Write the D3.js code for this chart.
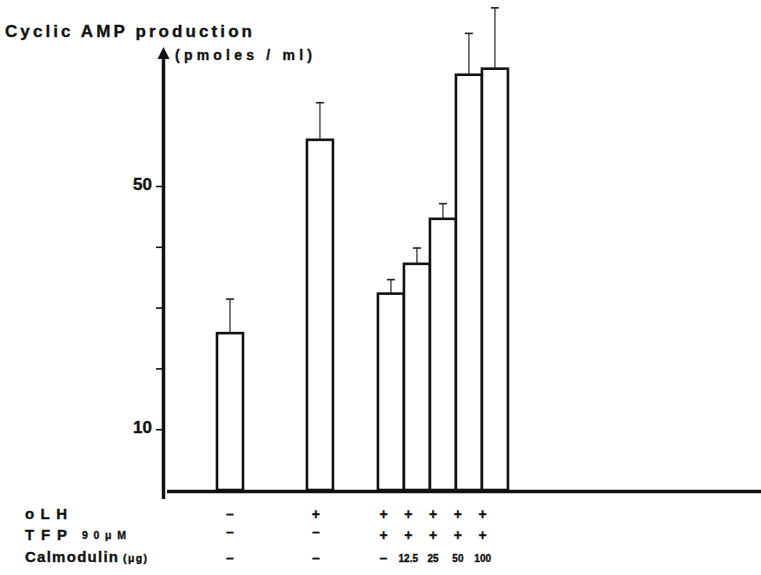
<html>
<head>
    <title>Cyclic AMP production</title>
    <script src="https://d3js.org/d3.v7.min.js"></script>
    <style>
        body { margin: 0; background: #fff; }
        text { font-family: "Liberation Sans", Arial, sans-serif; font-weight: bold; fill: #111; stroke: #111; stroke-width: 0.35px; }
    </style>
</head>
<body>
    <svg id="chart" width="761" height="575"></svg>

    <script>
        // values
        const conditions = ["control", "oLH", "oLH+TFP", "oLH+TFP+CaM12.5", "oLH+TFP+CaM25", "oLH+TFP+CaM50", "oLH+TFP+CaM100"];
        const groupOf = [0, 1, 2, 2, 2, 2, 2];
        const campValues = [25.8, 57.6, 32.3, 37.2, 44.6, 68.3, 69.3];
        const campErrors = [5.6, 6.1, 2.3, 2.6, 2.5, 6.8, 10.0];
        const oLHRow = ["\u2013", "+", "+", "+", "+", "+", "+"];
        const tfpRow = ["\u2013", "\u2013", "+", "+", "+", "+", "+"];
        const calmodulinRow = ["\u2013", "\u2013", "\u2013", "12.5", "25", "50", "100"];
        const yTicks = [10, 20, 30, 40, 50];
        const yTickLabels = {10: "10", 50: "50"};

        const svg = d3.select("#chart");

        // gap (in bar widths) added before each group
        const groupOffset = [0, 2.46, 4.19];
        const lane = conditions.map((c, i) => i + groupOffset[groupOf[i]]);

        const y = d3.scaleLinear().domain([0, 50]).range([490, 186]);
        const xBar = d3.scaleLinear().domain([0, 1]).range([217, 243]);
        const xLabel = d3.scaleLinear().domain([0, 1]).range([217.6, 242.4]);

        // y axis ticks
        const yAxis = d3.axisLeft(y)
            .tickValues(yTicks)
            .tickSize(7)
            .tickPadding(4)
            .tickFormat(d => yTickLabels[d] || "");
        const axisG = svg.append("g")
            .attr("transform", "translate(163,0)")
            .call(yAxis);
        axisG.select(".domain").remove();
        axisG.selectAll(".tick line").attr("stroke", "#111").attr("stroke-width", 1.6);
        axisG.selectAll(".tick text")
            .style("font-family", "'Liberation Sans', Arial, sans-serif")
            .style("font-weight", "bold")
            .style("font-size", "17px")
            .attr("fill", "#111")
            .attr("dy", "0.2em");

        // thick vertical axis with arrow
        svg.append("line")
            .attr("x1", 163.5).attr("x2", 163.5)
            .attr("y1", y(-1.5)).attr("y2", 56)
            .attr("stroke", "#111").attr("stroke-width", 3.5);
        svg.append("path")
            .attr("d", "M163.5,47 L169.5,59 L157.5,59 Z")
            .attr("fill", "#111");

        // baseline
        svg.append("line")
            .attr("x1", 167).attr("x2", 761)
            .attr("y1", y(0) + 1.5).attr("y2", y(0) + 1.5)
            .attr("stroke", "#111").attr("stroke-width", 3.5);

        // bars
        const bars = svg.append("g");
        bars.selectAll("rect")
            .data(campValues)
            .join("rect")
            .attr("x", (d, i) => xBar(lane[i]))
            .attr("width", xBar(1) - xBar(0))
            .attr("y", d => y(d))
            .attr("height", d => y(0) - y(d))
            .attr("fill", "white")
            .attr("stroke", "#111")
            .attr("stroke-width", 2.6);

        // error bars
        const err = svg.append("g").attr("stroke", "#222");
        err.selectAll("line.stem")
            .data(campValues)
            .join("line")
            .attr("class", "stem")
            .attr("x1", (d, i) => xBar(lane[i] + 0.5))
            .attr("x2", (d, i) => xBar(lane[i] + 0.5))
            .attr("y1", d => y(d))
            .attr("y2", (d, i) => y(d + campErrors[i]))
            .attr("stroke-width", 1.2);
        err.selectAll("line.cap")
            .data(campValues)
            .join("line")
            .attr("class", "cap")
            .attr("x1", (d, i) => xBar(lane[i] + 0.5) - 4)
            .attr("x2", (d, i) => xBar(lane[i] + 0.5) + 4)
            .attr("y1", (d, i) => y(d + campErrors[i]))
            .attr("y2", (d, i) => y(d + campErrors[i]))
            .attr("stroke-width", 1.6);

        // titles
        svg.append("text")
            .attr("x", 5).attr("y", 37)
            .attr("font-size", 17)
            .attr("textLength", 247).attr("lengthAdjust", "spacing")
            .text("Cyclic AMP production");
        svg.append("text")
            .attr("x", 175).attr("y", 60)
            .attr("font-size", 14)
            .attr("textLength", 137).attr("lengthAdjust", "spacing")
            .text("(pmoles / ml)");

        // row labels under the chart
        const rows = [
            {name: "oLH", unit: "", vals: oLHRow, base: 519},
            {name: "TFP", unit: "90\u03bcM", vals: tfpRow, base: 540},
            {name: "Calmodulin", unit: "(\u03bcg)", vals: calmodulinRow, base: 562}
        ];
        rows.forEach(r => {
            svg.append("text")
                .attr("x", 25).attr("y", r.base)
                .attr("font-size", 15)
                .attr("textLength", r.name === "Calmodulin" ? 93 : 42)
                .attr("lengthAdjust", "spacing")
                .text(r.name);
            if (r.unit) {
                svg.append("text")
                    .attr("x", r.name === "TFP" ? 82 : 123)
                    .attr("y", r.base - (r.name === "TFP" ? 1 : 0))
                    .attr("font-size", 10.5)
                    .attr("textLength", r.name === "TFP" ? 44 : 24)
                    .attr("lengthAdjust", "spacing")
                    .text(r.unit);
            }
            svg.append("g").selectAll("text")
                .data(r.vals)
                .join("text")
                .attr("x", (d, i) => xLabel(lane[i] + 0.5))
                .attr("y", d => {
                    if (d === "\u2013" && r.name === "Calmodulin") return r.base + 1;
                    if (d === "\u2013" && r.name === "TFP") return r.base - 3;
                    return r.base;
                })
                .attr("text-anchor", "middle")
                .attr("font-size", d => (d === "+" || d === "\u2013") ? 14 : 10)
                .text(d => d);
        });
    </script>
</body>
</html>
